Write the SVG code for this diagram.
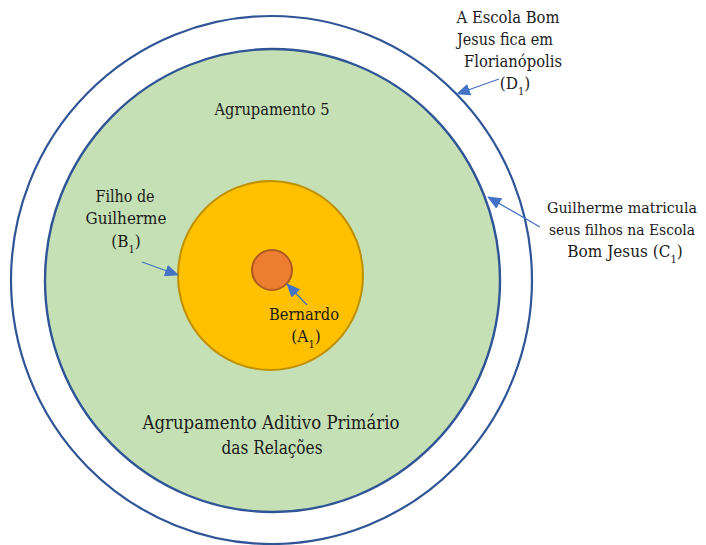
<svg xmlns="http://www.w3.org/2000/svg" width="706" height="545" viewBox="0 0 706 545">
<defs>
<marker id="ah" markerUnits="userSpaceOnUse" markerWidth="14" markerHeight="12" viewBox="0 0 14 12" refX="13" refY="6" orient="auto">
<path d="M0,0 L14,6 L0,12 Z" fill="#4472C4"/>
</marker>
</defs>
<style>
text{font-family:'DejaVu Serif Condensed','DejaVu Serif','Liberation Serif',serif;font-size:17px;fill:#1a1a1a;text-anchor:middle}
.big{font-size:19px}
.sm{font-size:15px}
.sub{font-size:11px}
.conn{stroke:#4472C4;stroke-width:1.3;fill:none;marker-end:url(#ah)}
</style>
<rect width="706" height="545" fill="#ffffff"/>
<g id="outer">
<ellipse cx="271.5" cy="280" rx="260.5" ry="264" fill="#ffffff" stroke="#2F5597" stroke-width="2.2"/>
</g>
<g id="green">
<ellipse cx="272.5" cy="280.5" rx="227.5" ry="231.5" fill="#C5E0B4" stroke="#2F5597" stroke-width="2.4"/>
<text x="272" y="115" textLength="115" lengthAdjust="spacingAndGlyphs">Agrupamento 5</text>
<text class="big" x="271" y="429" textLength="257" lengthAdjust="spacingAndGlyphs">Agrupamento Aditivo Primário</text>
<text class="big" x="272" y="454" textLength="101" lengthAdjust="spacingAndGlyphs">das Relações</text>
</g>
<g id="orange">
<ellipse cx="270.5" cy="275.5" rx="92.5" ry="94.5" fill="#FFC000" stroke="#BF9000" stroke-width="2"/>
</g>
<g id="red">
<circle cx="272" cy="270" r="20" fill="#ED7D31" stroke="#AE5A21" stroke-width="2"/>
</g>
<g id="label-d1">
<text x="508" y="23" textLength="103" lengthAdjust="spacingAndGlyphs">A Escola Bom</text>
<text x="505" y="45" textLength="96" lengthAdjust="spacingAndGlyphs">Jesus fica em</text>
<text x="513" y="67" textLength="98" lengthAdjust="spacingAndGlyphs">Florianópolis</text>
<text x="515" y="89">(D<tspan class="sub" dy="6">1</tspan><tspan dy="-6">)</tspan></text>
</g>
<g id="label-c1">
<text class="sm" x="622" y="213" textLength="150" lengthAdjust="spacingAndGlyphs">Guilherme matricula</text>
<text class="sm" x="622" y="235" textLength="146" lengthAdjust="spacingAndGlyphs">seus filhos na Escola</text>
<text x="625" y="257">Bom Jesus (C<tspan class="sub" dy="6">1</tspan><tspan dy="-6">)</tspan></text>
</g>
<g id="label-b1">
<text x="125" y="202" textLength="59" lengthAdjust="spacingAndGlyphs">Filho de</text>
<text x="126" y="224" textLength="81" lengthAdjust="spacingAndGlyphs">Guilherme</text>
<text x="126" y="247">(B<tspan class="sub" dy="6">1</tspan><tspan dy="-6">)</tspan></text>
</g>
<g id="label-a1">
<text x="304" y="320" textLength="70" lengthAdjust="spacingAndGlyphs">Bernardo</text>
<text x="306" y="342">(A<tspan class="sub" dy="6">1</tspan><tspan dy="-6">)</tspan></text>
</g>
<g id="connectors">
<line class="conn" x1="540" y1="227" x2="488" y2="197"/>
<line class="conn" x1="499" y1="79" x2="457" y2="94"/>
<line class="conn" x1="142" y1="262" x2="178" y2="275"/>
<line class="conn" x1="307" y1="305" x2="287" y2="284"/>
</g>
</svg>
